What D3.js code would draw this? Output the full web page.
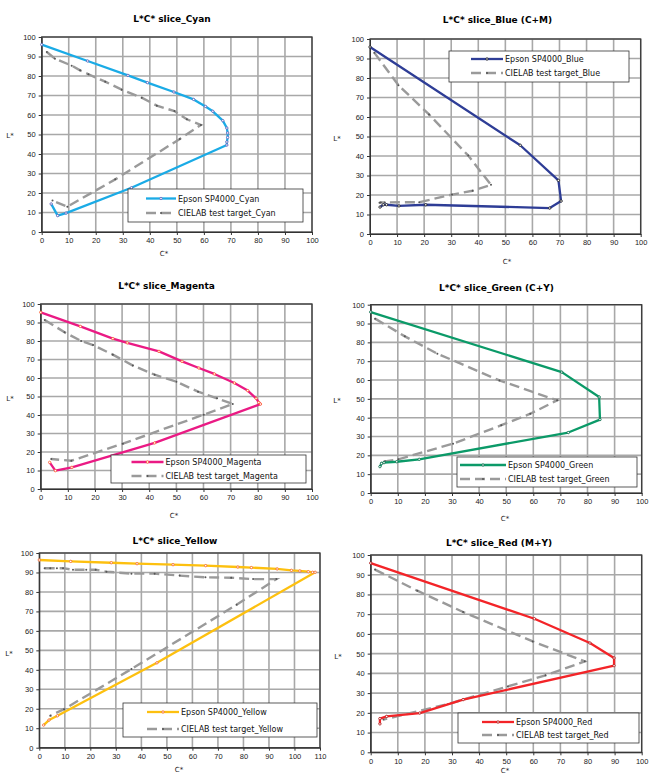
<!DOCTYPE html>
<html>
<head>
<meta charset="utf-8">
<script src="https://cdn.jsdelivr.net/npm/d3@7"></script>
<style>
  body { margin: 0; background: #fff; }
  svg { display: block; font-family: "DejaVu Sans", Verdana, sans-serif; }
  .title { font-size: 9px; font-weight: bold; fill: #000; }
  .axis text { font-size: 7.5px; fill: #222; }
  .axis path, .axis line { stroke: #333; }
  .axis-label { font-size: 7px; fill: #222; }
  .legend text { font-size: 8px; fill: #111; }
</style>
</head>
<body>
<div id="chart"></div>
<script>
// tick values
const lTicks = [0, 10, 20, 30, 40, 50, 60, 70, 80, 90, 100];
const cTicks = [0, 10, 20, 30, 40, 50, 60, 70, 80, 90, 100];
const cTicksYellow = [0, 10, 20, 30, 40, 50, 60, 70, 80, 90, 100, 110];

// [C*, L*] pairs
const cyanEpson = [[0, 96.1], [17, 87.7], [31.9, 80.3], [39.1, 76.6], [48.9, 71.8], [56.2, 68], [60.6, 64.4],
  [63.3, 61.9], [67, 57.1], [68.5, 53.3], [68.8, 50.8], [68.8, 48.5], [68.5, 46.2], [68.5, 44.6],
  [33.2, 22.7], [9, 9.7], [5.9, 8.4], [3.5, 14.4]];
const cyanTarget = [[1.9, 92.3], [4.9, 88.9], [11.1, 85.3], [14.2, 82.9], [17.3, 80.9], [23.5, 77.1], [29.6, 73],
  [37, 68.9], [42.6, 64.8], [49.1, 62], [53.7, 57.8], [58.9, 54.9], [51.1, 47.7], [27.2, 27],
  [9.5, 13], [4, 16.1]];

const blueEpson = [[0, 95.9], [55.5, 45.5], [69.6, 27.5], [70.6, 16.9], [66.4, 13.3], [20.6, 15], [10.7, 14.4],
  [6.1, 15], [4.9, 15], [3.7, 13.8]];
const blueTarget = [[1.6, 93], [10.5, 76.3], [21.8, 61.3], [36.3, 40.2], [44.7, 25.2], [37.9, 22.2], [30.3, 20.2],
  [18.2, 16.3], [5.5, 16.2], [4, 16.2], [3.5, 16]];

const magentaEpson = [[0, 95.5], [14.6, 87.9], [26.6, 81.3], [31.9, 79], [43.6, 74.4], [52.1, 69], [58.3, 65.4],
  [64, 62.2], [71.4, 57.3], [76.3, 53.2], [79.4, 49], [80.4, 46.8], [81, 45.9], [42, 24.9], [11.5, 11.7],
  [5.4, 9.9], [3.3, 14.4]];
const magentaTarget = [[1.5, 91.4], [8.8, 84.7], [14.9, 80], [19.3, 77.8], [26.6, 72.6], [34, 66.7], [42, 61.8],
  [50, 58], [58, 52.6], [65, 49], [70.8, 46], [60.1, 40.2], [30.3, 24.5], [11.3, 15.3], [3.9, 16.2]];

const greenEpson = [[0, 96.1], [70.5, 64.2], [84.3, 51], [84.6, 39], [72.9, 32.1], [17.9, 17.9], [9.6, 16.6],
  [4.9, 16.1], [4, 15.7], [3.4, 14]];
const greenTarget = [[1.6, 92.6], [12.6, 83.2], [24.6, 74], [47.5, 59.8], [68.8, 49.2], [58.9, 42.1], [48.2, 36],
  [30.4, 26.2], [10.2, 17.9], [5.3, 16.8], [4, 16.1]];

const yellowEpson = [[0, 96.4], [12.3, 95.7], [28.2, 95], [38.3, 94.5], [52.4, 94], [65.2, 93.5], [77.8, 92.8],
  [83.1, 92.5], [93.2, 91.8], [98.8, 91.1], [102.1, 90.8], [105.4, 90.4], [107.1, 90.1], [108.1, 90.1],
  [46.1, 43.6], [7.1, 16.4], [3.8, 14.2], [1.7, 11.6]];
const yellowTarget = [[2.1, 92.2], [4.3, 92.2], [6.9, 92.2], [9.3, 92.2], [13.2, 91.4], [18.4, 91.4], [22.1, 91.4],
  [26.3, 90.4], [36.1, 89.4], [45.2, 89.4], [55, 88.4], [65.1, 87.5], [75.2, 87.3], [83.8, 86.6], [92.9, 86.6],
  [77.3, 73.4], [36.1, 40.4], [9.7, 19.8], [4.3, 16.4]];

const redEpson = [[0, 95.9], [60.4, 67.7], [80.9, 55.4], [89.8, 47.8], [89.8, 43.9], [34.1, 26.7], [18.1, 19.9],
  [5.9, 18.2], [3.4, 17.1], [3.4, 14.4]];
const redTarget = [[1.6, 92.6], [17.2, 81.9], [34.1, 71.1], [59.8, 56.2], [79, 46.1], [64.5, 39], [50.6, 33.4],
  [28.6, 24.5], [4.7, 16.6]];

const gray = '#9a9a9a';

const panels = [
  { title: 'L*C* slice_Cyan', name: 'Cyan', epson: cyanEpson, target: cyanTarget, ticks: cTicks, color: '#1aabe6', mark: '#5b5bb8',
    box: { x0: 41.7, x1: 312, y0: 37, y1: 232 }, tx: 172, ty: 21.5, lx: 10, ly: 135, cx: 164, cy: 256,
    leg: { x: 128, y: 189, w: 175, h: 33, lx: 146, lw: 30, r1: 198.5, r2: 213 } },
  { title: 'L*C* slice_Blue (C+M)', name: 'Blue', epson: blueEpson, target: blueTarget, ticks: cTicks, color: '#2e3d96', mark: '#111',
    box: { x0: 370, x1: 640.7, y0: 39, y1: 234 }, tx: 497.5, ty: 22.5, lx: 337, ly: 138, cx: 507, cy: 264,
    leg: { x: 449, y: 51, w: 180, h: 31, lx: 471, lw: 32, r1: 59, r2: 73 } },
  { title: 'L*C* slice_Magenta', name: 'Magenta', epson: magentaEpson, target: magentaTarget, ticks: cTicks, color: '#ea1a84', mark: '#ff5a2a',
    box: { x0: 40.7, x1: 312, y0: 304, y1: 489 }, tx: 166.5, ty: 288.5, lx: 10, ly: 398, cx: 174, cy: 518,
    leg: { x: 111, y: 455, w: 195, h: 28, lx: 131.5, lw: 32, r1: 462, r2: 476 } },
  { title: 'L*C* slice_Green (C+Y)', name: 'Green', epson: greenEpson, target: greenTarget, ticks: cTicks, color: '#0b9a68', mark: '#064',
    box: { x0: 370.7, x1: 641.7, y0: 304.7, y1: 493 }, tx: 496.5, ty: 290.5, lx: 337, ly: 400, cx: 505, cy: 521,
    leg: { x: 457, y: 457, w: 180, h: 30, lx: 460, lw: 46, r1: 465, r2: 479 } },
  { title: 'L*C* slice_Yellow', name: 'Yellow', epson: yellowEpson, target: yellowTarget, ticks: cTicksYellow, color: '#fdc00f', mark: '#f4622a',
    box: { x0: 39.3, x1: 320, y0: 553, y1: 747.7 }, tx: 175, ty: 544, lx: 9, ly: 653, cx: 179, cy: 772,
    leg: { x: 123, y: 703, w: 194, h: 34, lx: 147, lw: 32, r1: 712, r2: 729 } },
  { title: 'L*C* slice_Red (M+Y)', name: 'Red', epson: redEpson, target: redTarget, ticks: cTicks, color: '#f32428', mark: '#a11',
    box: { x0: 370.7, x1: 641.7, y0: 555, y1: 752.3 }, tx: 499, ty: 546, lx: 338, ly: 656, cx: 505, cy: 773,
    leg: { x: 458, y: 713, w: 181, h: 30, lx: 482, lw: 32, r1: 722, r2: 735 } }
];

const svg = d3.select('#chart').append('svg')
  .attr('width', 650)
  .attr('height', 777);

panels.forEach(p => {
  const b = p.box;
  const cMax = d3.max(p.ticks);
  const x = d3.scaleLinear().domain([0, cMax]).range([b.x0, b.x1]);
  const y = d3.scaleLinear().domain([0, 100]).range([b.y1, b.y0]);
  const g = svg.append('g').attr('class', 'panel');

  // grid
  g.append('g').selectAll('line.vg').data(p.ticks.slice(1)).enter()
    .append('line')
    .attr('x1', d => x(d)).attr('x2', d => x(d))
    .attr('y1', b.y0).attr('y2', b.y1)
    .attr('stroke', '#a8a8a8').attr('stroke-width', 1.6);
  g.append('g').selectAll('line.hg').data(lTicks.slice(1)).enter()
    .append('line')
    .attr('x1', b.x0).attr('x2', b.x1)
    .attr('y1', d => y(d)).attr('y2', d => y(d))
    .attr('stroke', '#a8a8a8').attr('stroke-width', 1.6);

  // plot border
  g.append('rect')
    .attr('x', b.x0).attr('y', b.y0)
    .attr('width', b.x1 - b.x0).attr('height', b.y1 - b.y0)
    .attr('fill', 'none').attr('stroke', '#3a3a3a').attr('stroke-width', 1.3);

  // axes
  g.append('g')
    .attr('class', 'axis')
    .attr('transform', `translate(0, ${b.y1})`)
    .call(d3.axisBottom(x).tickValues(p.ticks).tickSizeInner(3).tickSizeOuter(0).tickPadding(3));
  g.append('g')
    .attr('class', 'axis')
    .attr('transform', `translate(${b.x0}, 0)`)
    .call(d3.axisLeft(y).tickValues(lTicks).tickSizeInner(3).tickSizeOuter(0).tickPadding(3));

  g.append('text').attr('class', 'title')
    .attr('x', p.tx).attr('y', p.ty).attr('text-anchor', 'middle').text(p.title);
  g.append('text').attr('class', 'axis-label')
    .attr('x', p.lx).attr('y', p.ly + 2.5).attr('text-anchor', 'middle').text('L*');
  g.append('text').attr('class', 'axis-label')
    .attr('x', p.cx).attr('y', p.cy).attr('text-anchor', 'middle').text('C*');

  const line = d3.line().x(d => x(d[0])).y(d => y(d[1]));

  // CIELAB target (dashed grey)
  g.append('path')
    .datum(p.target)
    .attr('d', line)
    .attr('fill', 'none').attr('stroke', gray)
    .attr('stroke-width', 2.4).attr('stroke-dasharray', '10,5');
  g.append('g').selectAll('circle').data(p.target).enter()
    .append('circle')
    .attr('cx', d => x(d[0])).attr('cy', d => y(d[1]))
    .attr('r', 1).attr('fill', '#555');

  // Epson measured
  g.append('path')
    .datum(p.epson)
    .attr('d', line)
    .attr('fill', 'none').attr('stroke', p.color)
    .attr('stroke-width', 2.3).attr('stroke-linejoin', 'round');
  g.append('g').selectAll('circle').data(p.epson).enter()
    .append('circle')
    .attr('cx', d => x(d[0])).attr('cy', d => y(d[1]))
    .attr('r', 1.2).attr('fill', '#fff').attr('stroke', p.mark).attr('stroke-width', 0.8);

  // legend
  const L = p.leg;
  const lg = g.append('g').attr('class', 'legend');
  lg.append('rect')
    .attr('x', L.x).attr('y', L.y).attr('width', L.w).attr('height', L.h)
    .attr('fill', '#fff').attr('stroke', '#333').attr('stroke-width', 0.8);
  lg.append('line')
    .attr('x1', L.lx).attr('x2', L.lx + L.lw).attr('y1', L.r1).attr('y2', L.r1)
    .attr('stroke', p.color).attr('stroke-width', 2.3);
  lg.append('circle')
    .attr('cx', L.lx + L.lw / 2).attr('cy', L.r1).attr('r', 1.2)
    .attr('fill', '#fff').attr('stroke', p.mark).attr('stroke-width', 0.8);
  lg.append('text').attr('x', L.lx + L.lw + 2).attr('y', L.r1 + 3).text(`Epson SP4000_${p.name}`);
  lg.append('line')
    .attr('x1', L.lx).attr('x2', L.lx + L.lw).attr('y1', L.r2).attr('y2', L.r2)
    .attr('stroke', gray).attr('stroke-width', 2.4).attr('stroke-dasharray', '10,5');
  lg.append('circle')
    .attr('cx', L.lx + L.lw / 2).attr('cy', L.r2).attr('r', 1).attr('fill', '#555');
  lg.append('text').attr('x', L.lx + L.lw + 2).attr('y', L.r2 + 3).text(`CIELAB test target_${p.name}`);
});
</script>
</body>
</html>
